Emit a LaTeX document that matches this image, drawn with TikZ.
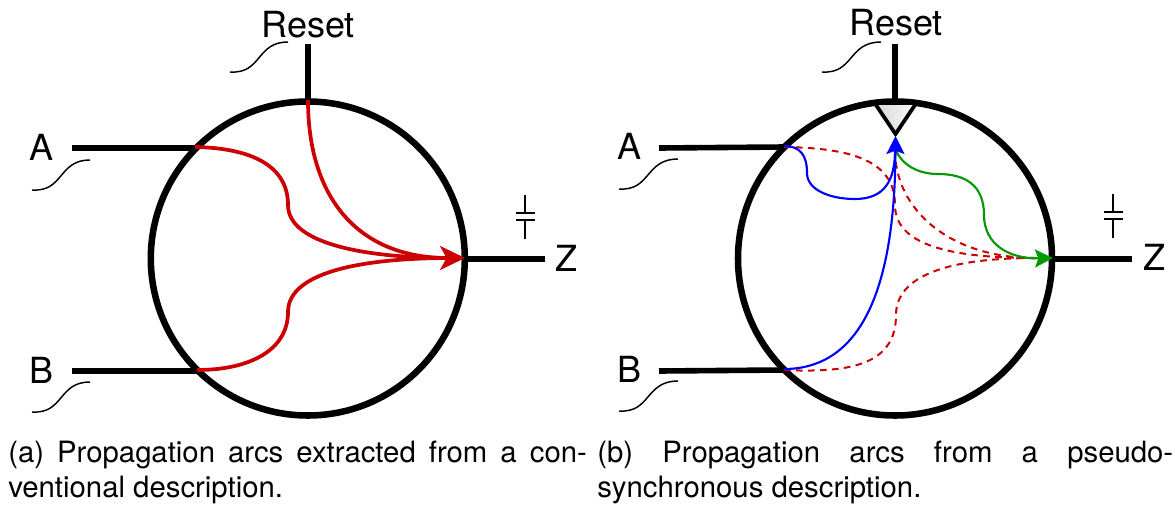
\documentclass[tikz,border=0pt]{standalone}
\usepackage{fontspec}
\setmainfont{TeX Gyre Heros}
\usetikzlibrary{arrows.meta}
\definecolor{arcred}{RGB}{204,0,0}
\definecolor{arcblue}{RGB}{0,0,255}
\definecolor{arcgreen}{RGB}{0,153,0}
\tikzset{
  wire/.style={line width=4.2pt,black},
  ring/.style={circle,draw=black,line width=4.9pt,minimum size=235.5pt,inner sep=0pt,outer sep=0pt},
  squig/.style={line width=1.1pt,black},
  pinlabel/.style={font=\fontsize{27}{27}\selectfont,inner sep=0pt},
  captext/.style={font=\fontsize{22}{26}\selectfont,inner sep=0pt,anchor=base west},
  redarc/.style={line width=2.8pt,arcred},
  reddash/.style={line width=1.5pt,arcred,dash pattern=on 5pt off 4pt},
  bluearc/.style={line width=1.6pt,arcblue},
  greenarc/.style={line width=1.6pt,arcgreen},
}
\begin{document}
\begin{tikzpicture}[x=0.75pt,y=-0.75pt]
\useasboundingbox (0,0) rectangle (1175,504);
% ---- left ----
\coordinate (lc) at (307.8,258.5);
\coordinate (lAo) at (72,148);
\coordinate (lAi) at (195,148);
\coordinate (lBo) at (72,371);
\coordinate (lBi) at (197,371);
\coordinate (lRo) at (308,44);
\coordinate (lRi) at (308,100);
\coordinate (lZi) at (467,259);
\coordinate (lZo) at (545,259);
\coordinate (lAm) at (288,205);
\coordinate (lBm) at (288,312);
\node[ring] (lring) at (lc) {};
\draw[wire] (lAo) -- (lAi);
\draw[wire] (lBo) -- (lBi);
\draw[wire] (lRo) -- (lRi);
\draw[wire] (lZi) -- (lZo);
\node[pinlabel] (lA) at (42,147) {A};
\node[pinlabel] (lB) at (42,370) {B};
\node[pinlabel] (lR) at (308,25) {Reset};
\node[pinlabel] (lZ) at (566,258) {Z};
\draw[squig] (230,72) .. controls (262,74) and (256,42) .. (288,42);
\draw[squig] (32,190) .. controls (64,192) and (58,160) .. (90,160);
\draw[squig] (32,412) .. controls (64,414) and (58,382) .. (90,382);
\draw[squig] (525,195) -- (525,213) (516,213) -- (535,213) (516,220) -- (535,220) (525,220) -- (525,239);
\draw[redarc] (195,147) .. controls (250,148) and (288,165) .. (lAm) .. controls (288,245) and (370,258) .. (450,258);
\draw[redarc] (197,370) .. controls (250,370) and (288,350) .. (lBm) .. controls (288,270) and (370,258) .. (450,258);
\draw[redarc,-{Stealth[length=18.75pt,width=18pt,inset=5pt]}] (lRi) .. controls (308,200) and (360,258) .. (465,258);
% ---- right ----
\coordinate (rc) at (895,258.5);
\coordinate (rAo) at (659,148);
\coordinate (rAi) at (784,147);
\coordinate (rBo) at (659,371);
\coordinate (rBi) at (784,370);
\coordinate (rRo) at (895,44);
\coordinate (rRi) at (895,100);
\coordinate (rZi) at (1053,259);
\coordinate (rZo) at (1132,259);
\coordinate (rT) at (895.5,134);
\coordinate (rAm) at (895,205);
\coordinate (rBm) at (896,315);
\coordinate (rJ) at (1035,258);
\node[ring] (rring) at (rc) {};
\draw[wire] (rAo) -- (rAi);
\draw[wire] (rBo) -- (rBi);
\draw[wire] (rRo) -- (rRi);
\draw[wire] (rZi) -- (rZo);
\draw[line width=2.8pt,line join=miter,left color=white!70!gray,right color=white!95!gray] (876,105) -- (rT) -- (915,105);
\node[pinlabel] (rA) at (629,146) {A};
\node[pinlabel] (rB) at (629,369) {B};
\node[pinlabel] (rR) at (896,23) {Reset};
\node[pinlabel] (rZ) at (1154,257) {Z};
\draw[squig] (822,72) .. controls (854,74) and (848,42) .. (881,42);
\draw[squig] (619,189) .. controls (651,191) and (645,159) .. (678,159);
\draw[squig] (619,411) .. controls (651,413) and (645,381) .. (678,381);
\draw[squig] (1113,194) -- (1113,212) (1104,212) -- (1123,212) (1104,219) -- (1123,219) (1113,219) -- (1113,238);
\draw[reddash] (rAi) .. controls (850,148) and (895,160) .. (rAm) .. controls (895,245) and (950,258) .. (rJ);
\draw[reddash] (895,150) .. controls (895,210) and (950,258) .. (rJ);
\draw[reddash] (rBi) .. controls (850,373) and (896,365) .. (rBm) .. controls (896,275) and (950,258) .. (rJ);
\draw[greenarc,-{Stealth[length=13.5pt,width=13.5pt,inset=2.5pt]}] (896,150) .. controls (902,165) and (918,174) .. (938,174) .. controls (965,174) and (984,185) .. (984,215) .. controls (984,245) and (1010,259) .. (1053,258);
\draw[bluearc] (784,146) .. controls (800,146) and (807,155) .. (807,173) .. controls (807,190) and (830,199) .. (855,199) .. controls (885,199) and (895,180) .. (895,150);
\draw[bluearc,-{Stealth[length=13.5pt,width=13.5pt,inset=2.5pt]}] (784,369) .. controls (850,369) and (895,310) .. (895.5,136);
% ---- captions ----
\node[captext] (ca1) at (8,462) {\makebox[434pt][s]{(a) Propagation arcs extracted from a con-}};
\node[captext] (ca2) at (8,497) {ventional description.};
\node[captext] (cb1) at (597,462) {\makebox[432pt][s]{(b) Propagation arcs from a pseudo-}};
\node[captext] (cb2) at (597,497) {synchronous description.};
\end{tikzpicture}
\end{document}
